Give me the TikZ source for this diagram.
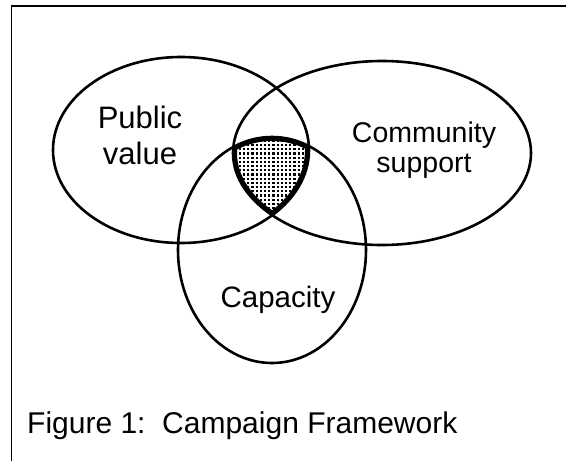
\documentclass[tikz,border=0pt]{standalone}
\usepackage{fontspec}
\setmainfont{Liberation Sans}
\begin{document}
\begin{tikzpicture}[x=1pt,y=-1pt,
  setline/.style={line width=2.6pt},
  frameline/.style={line width=1.9pt},
  vtext/.style={inner sep=0pt, align=center, font=\fontsize{29.5}{30}\selectfont}]
\useasboundingbox (0,0) rectangle (566,461);
% outer frame (runs past the right and bottom edges)
\draw[frameline] (11.5,5.7) rectangle (590,490);
% set centres
\coordinate (cPV) at (181,150);
\coordinate (cCS) at (382,153);
\coordinate (cCA) at (272,250);
% dotted common region of all three sets
\begin{scope}
  \clip (cPV) ellipse [x radius=128pt, y radius=93pt];
  \clip (cCS) ellipse [x radius=149pt, y radius=92pt];
  \clip (cCA) ellipse [x radius=94pt, y radius=113pt];
  \foreach \i in {0,...,24}
    \foreach \j in {0,...,28}
      \fill (222+\i*4.2,102+\j*4.2) rectangle ++(2.2,2.2);
  \draw[line width=8pt] (cPV) ellipse [x radius=128pt, y radius=93pt];
  \draw[line width=8pt] (cCS) ellipse [x radius=149pt, y radius=92pt];
  \draw[line width=8pt] (cCA) ellipse [x radius=94pt, y radius=113pt];
\end{scope}
% the three sets
\draw[setline] (cPV) ellipse [x radius=128pt, y radius=93pt];
\draw[setline] (cCS) ellipse [x radius=149pt, y radius=92pt];
\draw[setline] (cCA) ellipse [x radius=94pt, y radius=113pt];
% labels
\node[vtext, font=\fontsize{31}{36}\selectfont] (pv) at (140,135) {Public\\value};
\node[vtext, font=\fontsize{28.5}{30}\selectfont] (cs) at (424,150) {Community\\support};
\node[vtext, anchor=base] (ca) at (278,307) {Capacity};
\node[vtext, font=\fontsize{30}{30}\selectfont, anchor=base west] (fig) at (27,433) {Figure 1:\ \ Campaign Framework};
\end{tikzpicture}
\end{document}
